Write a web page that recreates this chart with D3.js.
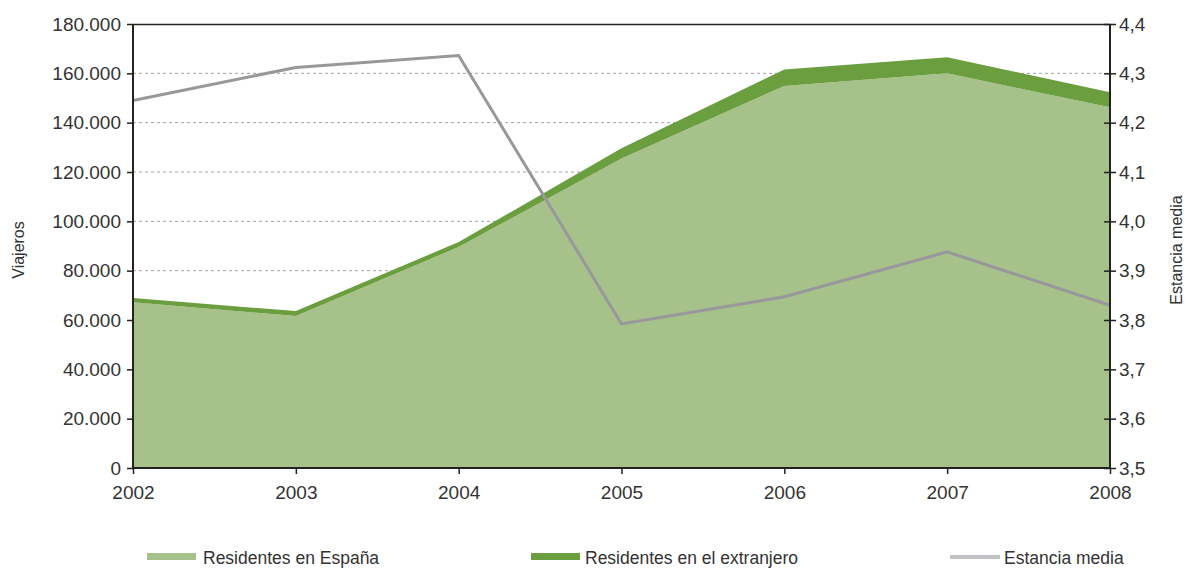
<!DOCTYPE html>
<html><head><meta charset="utf-8">
<script src="https://cdn.jsdelivr.net/npm/d3@7/dist/d3.min.js"></script>
<style>
body{margin:0;background:#fff;}
text{font-family:"Liberation Sans",Arial,sans-serif;fill:#333;}
</style></head>
<body><svg id="c" width="1185" height="570"></svg>
<script>
const years = [2002, 2003, 2004, 2005, 2006, 2007, 2008];
const residentesEspana = [67200, 61600, 89600, 125500, 154900, 160000, 146200];
const residentesExtranjero = [1700, 2000, 2000, 4100, 6700, 6500, 6100];
const estanciaMedia = [4.245, 4.312, 4.336, 3.792, 3.847, 3.938, 3.830];
const leftTicks = [0,20000,40000,60000,80000,100000,120000,140000,160000,180000];
const rightTicks = [3.5,3.6,3.7,3.8,3.9,4.0,4.1,4.2,4.3,4.4];
const seriesNames = ["Residentes en España","Residentes en el extranjero","Estancia media"];
const colors = ["#a6c18a","#6b9e3e","#98989c"];

const svg = d3.select("#c");
const L=133,R=1110,T=24,B=468;
const x = d3.scalePoint().domain(years).range([L,R]);
const y = d3.scaleLinear().domain([0,180000]).range([B,T]);
const y2 = d3.scaleLinear().domain([3.5,4.4]).range([B,T]);
const fmtL = d => d3.format(",")(d).replace(/,/g,".");
const fmtR = d => d3.format(".1f")(d).replace(".",",");

// gridlines
svg.append("g").selectAll("line").data(leftTicks.filter(d=>d>0&&d<180000)).join("line")
  .attr("x1",L).attr("x2",R).attr("y1",d=>y(d)).attr("y2",d=>y(d))
  .attr("stroke","#a0a0a0").attr("stroke-width",1).attr("stroke-dasharray","3,3");

const data = years.map((yr,i)=>({year:yr,esp:residentesEspana[i],ext:residentesExtranjero[i],est:estanciaMedia[i]}));
const stack = d3.stack().keys(["esp","ext"])(data);
const area = d3.area().x(d=>x(d.data.year)).y0(d=>y(d[0])).y1(d=>y(d[1]));
svg.append("g").selectAll("path").data(stack).join("path")
  .attr("d",area).attr("fill",(d,i)=>colors[i]);

// line
svg.append("path").datum(data)
  .attr("d",d3.line().x(d=>x(d.year)).y(d=>y2(d.est)))
  .attr("fill","none").attr("stroke",colors[2]).attr("stroke-width",3);

// frame top
svg.append("line").attr("x1",L).attr("x2",R).attr("y1",T+0.5).attr("y2",T+0.5).attr("stroke","#222").attr("stroke-width",1.5);

// axes
const ax = svg.append("g").attr("transform",`translate(0,${B})`)
  .call(d3.axisBottom(x).tickSize(6).tickPadding(12));
const ay = svg.append("g").attr("transform",`translate(${L},0)`)
  .call(d3.axisLeft(y).tickValues(leftTicks).tickFormat(fmtL).tickSize(6).tickPadding(6));
const ay2 = svg.append("g").attr("transform",`translate(${R},0)`)
  .call(d3.axisRight(y2).tickValues(rightTicks).tickFormat(fmtR).tickSize(6).tickPadding(3));
ay2.selectAll(".tick").append("line").attr("x1",-6).attr("x2",0).attr("stroke","#222").attr("stroke-width",1.5);
[ax,ay,ay2].forEach(g=>{
  g.selectAll(".domain").attr("stroke","#222").attr("stroke-width",2);
  g.selectAll(".tick line").attr("stroke","#222").attr("stroke-width",1.5);
  g.selectAll("text").style("font-family","'Liberation Sans',Arial,sans-serif").style("font-size","19px").attr("fill","#333");
});
ax.select(".domain").attr("d",`M${L},0H${R}`);
ay.select(".domain").attr("d",`M0,${T}V${B}`);
ay2.select(".domain").attr("d",`M0,${T}V${B}`);

// axis titles
svg.append("text").attr("transform","translate(24,250) rotate(-90)").attr("text-anchor","middle")
  .style("font-size","16px").text("Viajeros");
svg.append("text").attr("transform","translate(1182,250) rotate(-90)").attr("text-anchor","middle")
  .style("font-size","16px").text("Estancia media");

// legend
const legX = [147,531,950];
const lg = svg.append("g");
seriesNames.forEach((n,i)=>{
  const g = lg.append("g").attr("transform",`translate(${legX[i]},0)`);
  if(i<2) g.append("rect").attr("x",0).attr("y",553).attr("width",49).attr("height",7).attr("fill",colors[i]);
  else g.append("rect").attr("x",0).attr("y",555).attr("width",50).attr("height",4).attr("fill","#c2c2c6");
  g.append("text").attr("x",i==0?56:54).attr("y",564).style("font-size","17.5px").attr("fill","#333").text(n);
});
</script></body></html>
